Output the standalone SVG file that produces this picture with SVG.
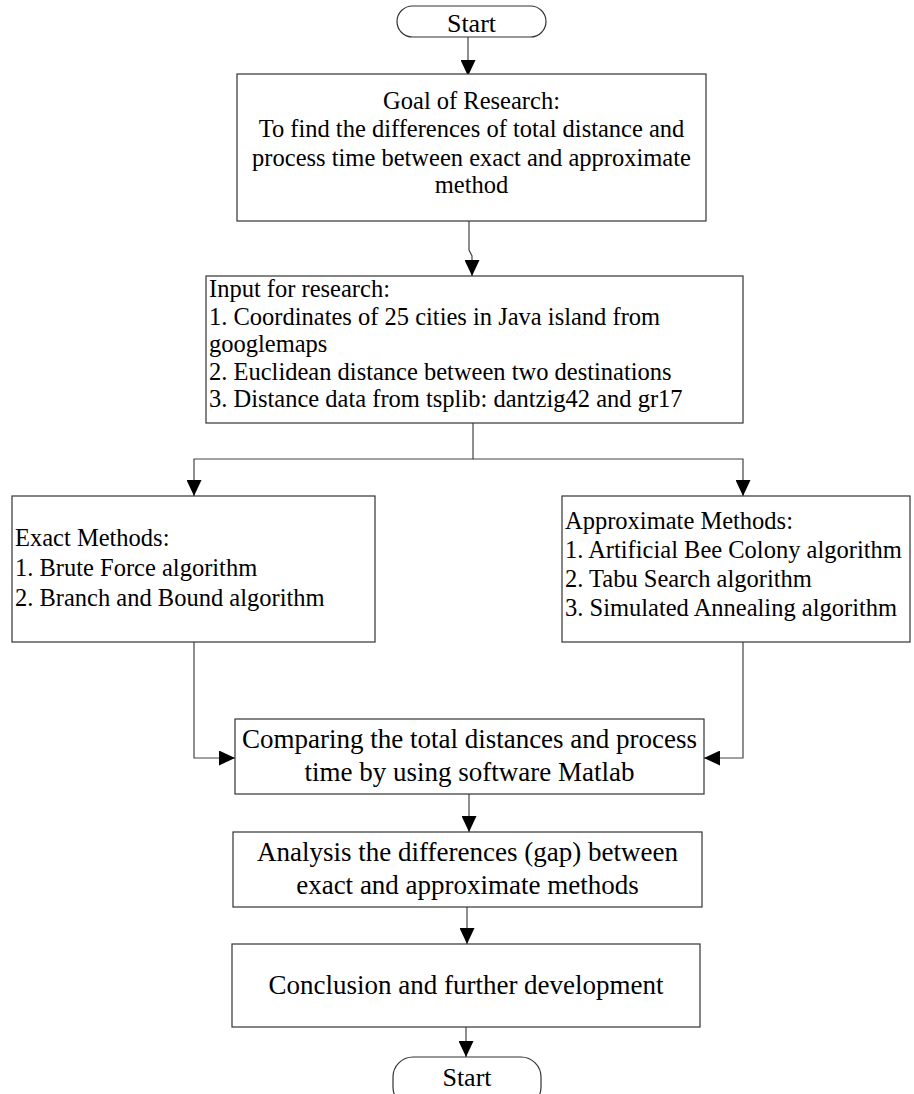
<svg xmlns="http://www.w3.org/2000/svg" width="914" height="1094" viewBox="0 0 914 1094">
<defs>
<style>
.box{fill:#fff;stroke:#333;stroke-width:1.2}
.t{font-family:"Liberation Serif","Times New Roman",serif;fill:#000}
.s{font-size:24.5px}
.l{font-size:27px}
.st{font-size:26px}
.c{text-anchor:middle}
.cn{fill:none;stroke:#444;stroke-width:1.2}
</style>
<marker id="ah" markerUnits="userSpaceOnUse" markerWidth="16" markerHeight="15" refX="16" refY="7.5" orient="auto">
<path d="M0,0 L16,7.5 L0,15 z" fill="#000"/>
</marker>
</defs>
<rect width="914" height="1094" fill="#fff"/>
<g id="connectors">
<path class="cn" d="M468,37 V76" marker-end="url(#ah)"/>
<path class="cn" d="M469,221 V250 L472,256 V276" marker-end="url(#ah)"/>
<path class="cn" d="M473,423 V459 H194 V496" marker-end="url(#ah)"/>
<path class="cn" d="M473,459 H743 V496" marker-end="url(#ah)"/>
<path class="cn" d="M194,642 V758 H235" marker-end="url(#ah)"/>
<path class="cn" d="M743,642 V758 H704" marker-end="url(#ah)"/>
<path class="cn" d="M469,794 V832" marker-end="url(#ah)"/>
<path class="cn" d="M467,907 V944" marker-end="url(#ah)"/>
<path class="cn" d="M466,1027 V1057" marker-end="url(#ah)"/>
</g>
<g id="start">
<rect class="box" x="397" y="6" width="149" height="31" rx="15.5"/>
<text class="t st c" x="471.5" y="32">Start</text>
</g>
<g id="goal">
<rect class="box" x="237" y="74" width="469" height="147"/>
<text class="t s c" x="471.5" y="109">Goal of Research:</text>
<text class="t s c" x="471.5" y="137">To find the differences of total distance and</text>
<text class="t s c" x="471.5" y="165.5">process time between exact and approximate</text>
<text class="t s c" x="471.5" y="193">method</text>
</g>
<g id="input">
<rect class="box" x="206" y="276" width="537" height="147"/>
<text class="t s" x="209" y="297">Input for research:</text>
<text class="t s" x="209" y="324.5">1. Coordinates of 25 cities in Java island from</text>
<text class="t s" x="209" y="352">googlemaps</text>
<text class="t s" x="209" y="379.5">2. Euclidean distance between two destinations</text>
<text class="t s" x="209" y="407">3. Distance data from tsplib: dantzig42 and gr17</text>
</g>
<g id="exact">
<rect class="box" x="12" y="496" width="363" height="146"/>
<text class="t s" x="15" y="546">Exact Methods:</text>
<text class="t s" x="15" y="576">1. Brute Force algorithm</text>
<text class="t s" x="15" y="606">2. Branch and Bound algorithm</text>
</g>
<g id="approx">
<rect class="box" x="562" y="496" width="348" height="146"/>
<text class="t s" x="565" y="529">Approximate Methods:</text>
<text class="t s" x="565" y="558">1. Artificial Bee Colony algorithm</text>
<text class="t s" x="565" y="587">2. Tabu Search algorithm</text>
<text class="t s" x="565" y="616">3. Simulated Annealing algorithm</text>
</g>
<g id="compare">
<rect class="box" x="235" y="719" width="469" height="75"/>
<text class="t l c" x="469.5" y="748">Comparing the total distances and process</text>
<text class="t l c" x="469.5" y="781">time by using software Matlab</text>
</g>
<g id="analysis">
<rect class="box" x="233" y="832" width="469" height="75"/>
<text class="t l c" x="467.5" y="861">Analysis the differences (gap) between</text>
<text class="t l c" x="467.5" y="894">exact and approximate methods</text>
</g>
<g id="conclusion">
<rect class="box" x="232" y="944" width="468" height="83"/>
<text class="t l c" x="466" y="994">Conclusion and further development</text>
</g>
<g id="end">
<rect class="box" x="393" y="1057" width="148" height="50" rx="20"/>
<text class="t st c" x="467" y="1086">Start</text>
</g>
</svg>
